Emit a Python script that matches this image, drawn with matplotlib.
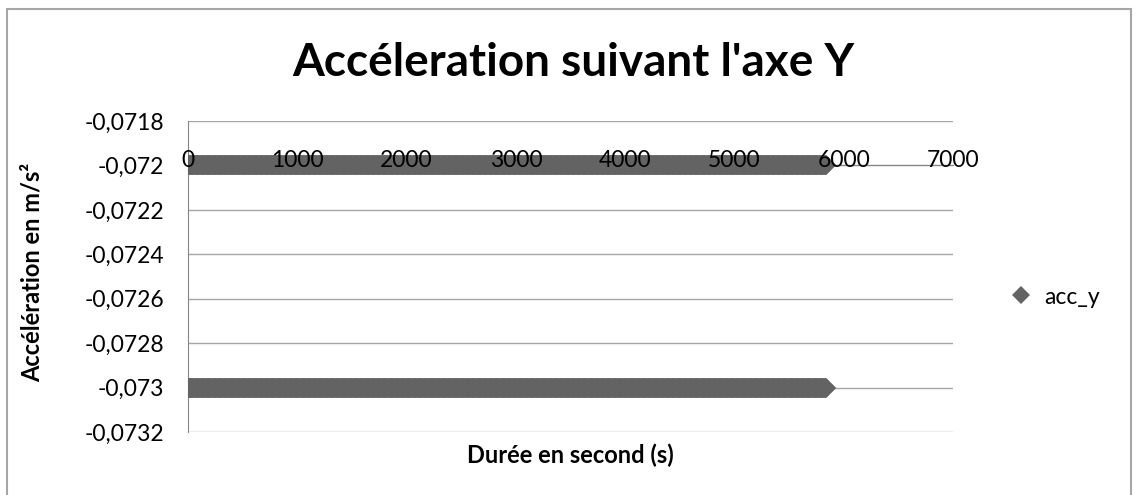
import numpy as np
import matplotlib
matplotlib.use("Agg")
import matplotlib.pyplot as plt
from matplotlib.ticker import FuncFormatter

plt.rcParams['font.family'] = ['Lato', 'DejaVu Sans']

# data: acc_y only takes two values over ~5840 s
niveaux_acc_y = [-0.072, -0.073]
duree_max = 5840          # last sample, s
pas = 5                   # sampling step, s
x_ticks = [0, 1000, 2000, 3000, 4000, 5000, 6000, 7000]
y_ticks = [-0.0718, -0.072, -0.0722, -0.0724, -0.0726, -0.0728, -0.073, -0.0732]

temps = np.arange(0, duree_max + 1, pas)
x = np.concatenate([temps for _ in niveaux_acc_y])
y = np.concatenate([np.full(len(temps), v) for v in niveaux_acc_y])

fig = plt.figure(figsize=(11.35, 4.95), dpi=100)
# outer chart border
fig.patches.append(plt.Rectangle((7 / 1135, -0.05), 1124 / 1135, 1 - 9 / 495 + 0.05,
                                 transform=fig.transFigure, fill=False,
                                 edgecolor='#a6a6a6', linewidth=1.5))

ax = fig.add_axes([188 / 1135, 1 - 432 / 495, 765 / 1135, 311 / 495])
ax.plot(x, y, linestyle='none', marker='D', markersize=10,
        color='#636363', markeredgewidth=0, label='acc_y', zorder=2)

ax.set_xlim(0, 7000)
ax.set_ylim(-0.0732, -0.0718)
ax.set_xticks(x_ticks)
ax.set_yticks(y_ticks)
ax.yaxis.set_major_formatter(FuncFormatter(lambda v, p: ('%g' % v).replace('.', ',')))

ax.grid(axis='y', color='#a6a6a6', linewidth=1)
ax.set_axisbelow(True)
ax.xaxis.set_zorder(3)   # tick labels drawn over the markers

for s in ['right', 'bottom']:
    ax.spines[s].set_visible(False)
ax.spines['left'].set_color('#868686')
ax.spines['left'].set_zorder(1)
ax.spines['top'].set_position(('data', -0.072))
ax.spines['top'].set_color('#868686')
ax.spines['top'].set_zorder(1)
ax.xaxis.set_ticks_position('top')
ax.xaxis.set_label_position('bottom')
ax.tick_params(axis='x', length=0, pad=-4, labelsize=16.5)
ax.tick_params(axis='y', length=0, pad=17, labelsize=16.5)

ax.set_xlabel('Durée en second (s)', fontsize=17, fontweight='bold')
ax.xaxis.set_label_coords(0.5, -(455 - 432) / 311, transform=ax.transAxes)
ax.xaxis.label.set_va('center')
ax.set_ylabel('Accélération en m/s²', fontsize=17, fontweight='bold')
ax.yaxis.set_label_coords(-(188 - 32) / 765, (432 - 272) / 311)
ax.yaxis.label.set_va('center')
fig.text(573 / 1135, 1 - 63 / 495, "Accéleration suivant l'axe Y", ha='center',
         va='center', fontsize=33, fontweight='bold')

fig.legend(loc='center left', bbox_to_anchor=(1012 / 1135, 1 - 297 / 495),
           frameon=False, fontsize=16.5, handlelength=0.8, handletextpad=0.6,
           markerscale=0.9, borderpad=0, borderaxespad=0)

fig.savefig('out.png', dpi=100)
